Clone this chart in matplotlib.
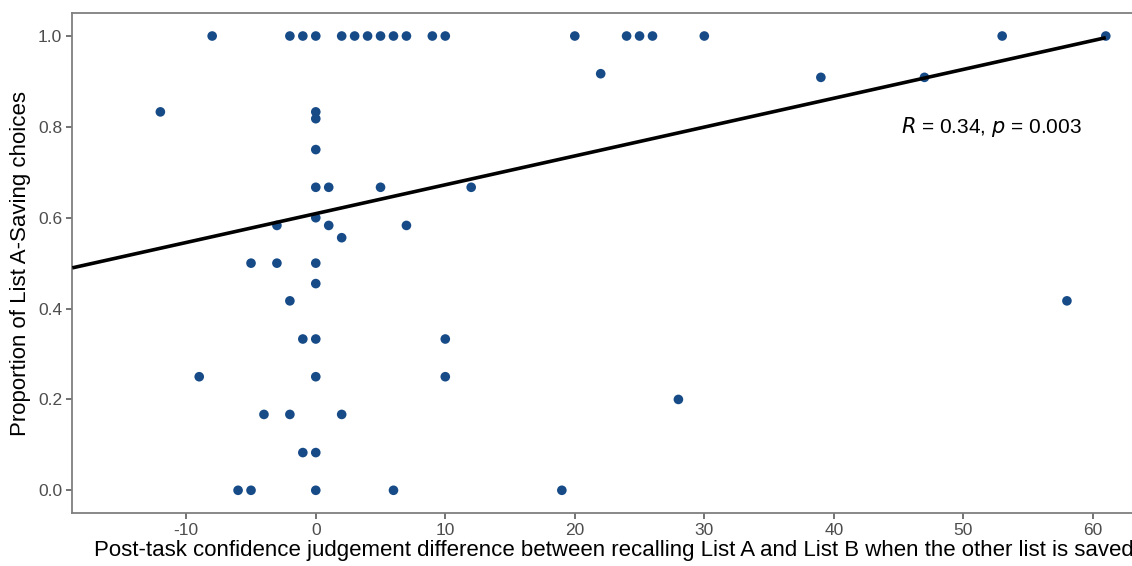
import numpy as np
import matplotlib
matplotlib.use("Agg")
import matplotlib.pyplot as plt

plt.rcParams['font.family'] = ['Liberation Sans', 'DejaVu Sans']

# Data
conf_diff = [-8, -2, -1, 0, 2, 3, 4, 5, 6, 7, 9, 10, 20, 24, 25, 26, 30, 53, 61,
             22, 39, 47,
             -12, 0, 0, 0, 0, 1, 5, 12,
             0, -3, 1, 7, 2,
             -5, -3, 0, 0, -2, 58,
             -1, 0, 10,
             -9, 0, 10, 28,
             -4, -2, 2, -1, 0,
             -6, -5, 0, 6, 19]
prop_a = [1.0] * 19 + \
         [0.917, 0.909, 0.909,
          0.833, 0.833, 0.818, 0.75, 0.667, 0.667, 0.667, 0.667,
          0.6, 0.583, 0.583, 0.583, 0.556,
          0.5, 0.5, 0.5, 0.455, 0.417, 0.417,
          0.333, 0.333, 0.333,
          0.25, 0.25, 0.25, 0.2,
          0.167, 0.167, 0.167, 0.083, 0.083,
          0.0, 0.0, 0.0, 0.0, 0.0]
# Fitted line as shown in the reference (intercept, slope)
fit_intercept = 0.609
fit_slope = 0.00635
x_ticks = [-10, 0, 10, 20, 30, 40, 50, 60]
y_ticks = [0.0, 0.2, 0.4, 0.6, 0.8, 1.0]
annot = "$\\it{R}$ = 0.34, $\\it{p}$ = 0.003"

x = np.array(conf_diff, dtype=float)
y = np.array(prop_a, dtype=float)

fig = plt.figure(figsize=(11.32, 5.66), dpi=100)
ax = fig.add_axes([72.3 / 1132, 1 - 513 / 566, (1155 - 72.3) / 1132, (513 - 13.3) / 566])

xlim = (-18.8, 64.8)
ax.set_xlim(*xlim)
ax.set_ylim(-0.05, 1.05)

ax.scatter(x, y, s=48, color='#174b87', edgecolors='none', zorder=3)

xl = np.array([xlim[0], x.max()])
ax.plot(xl, fit_intercept + fit_slope * xl, color='black', lw=2.6, zorder=4,
        solid_capstyle='butt')

ax.text(45.2, 0.8, annot, fontsize=15, ha='left', va='center', color='black')

ax.set_xticks(x_ticks)
ax.set_xticklabels([str(t) for t in x_ticks])
ax.set_yticks(y_ticks)
ax.set_yticklabels([f"{t:.1f}" for t in y_ticks])

for s in ['left', 'bottom', 'top', 'right']:
    ax.spines[s].set_color('#7f7f7f')
    ax.spines[s].set_linewidth(1.3)
ax.tick_params(axis='both', colors='#4d4d4d', labelsize=12.5, length=4, width=1.1,
               direction='out', pad=3.4)
ax.tick_params(axis='x', pad=3.5)

ax.set_xlabel("Post-task confidence judgement difference between recalling List A and List B when the other list is saved",
              fontsize=16, color='black', labelpad=1)
ax.set_ylabel("Proportion of List A-Saving choices", fontsize=16, color='black', labelpad=5)

fig.savefig("out.png", dpi=100)
